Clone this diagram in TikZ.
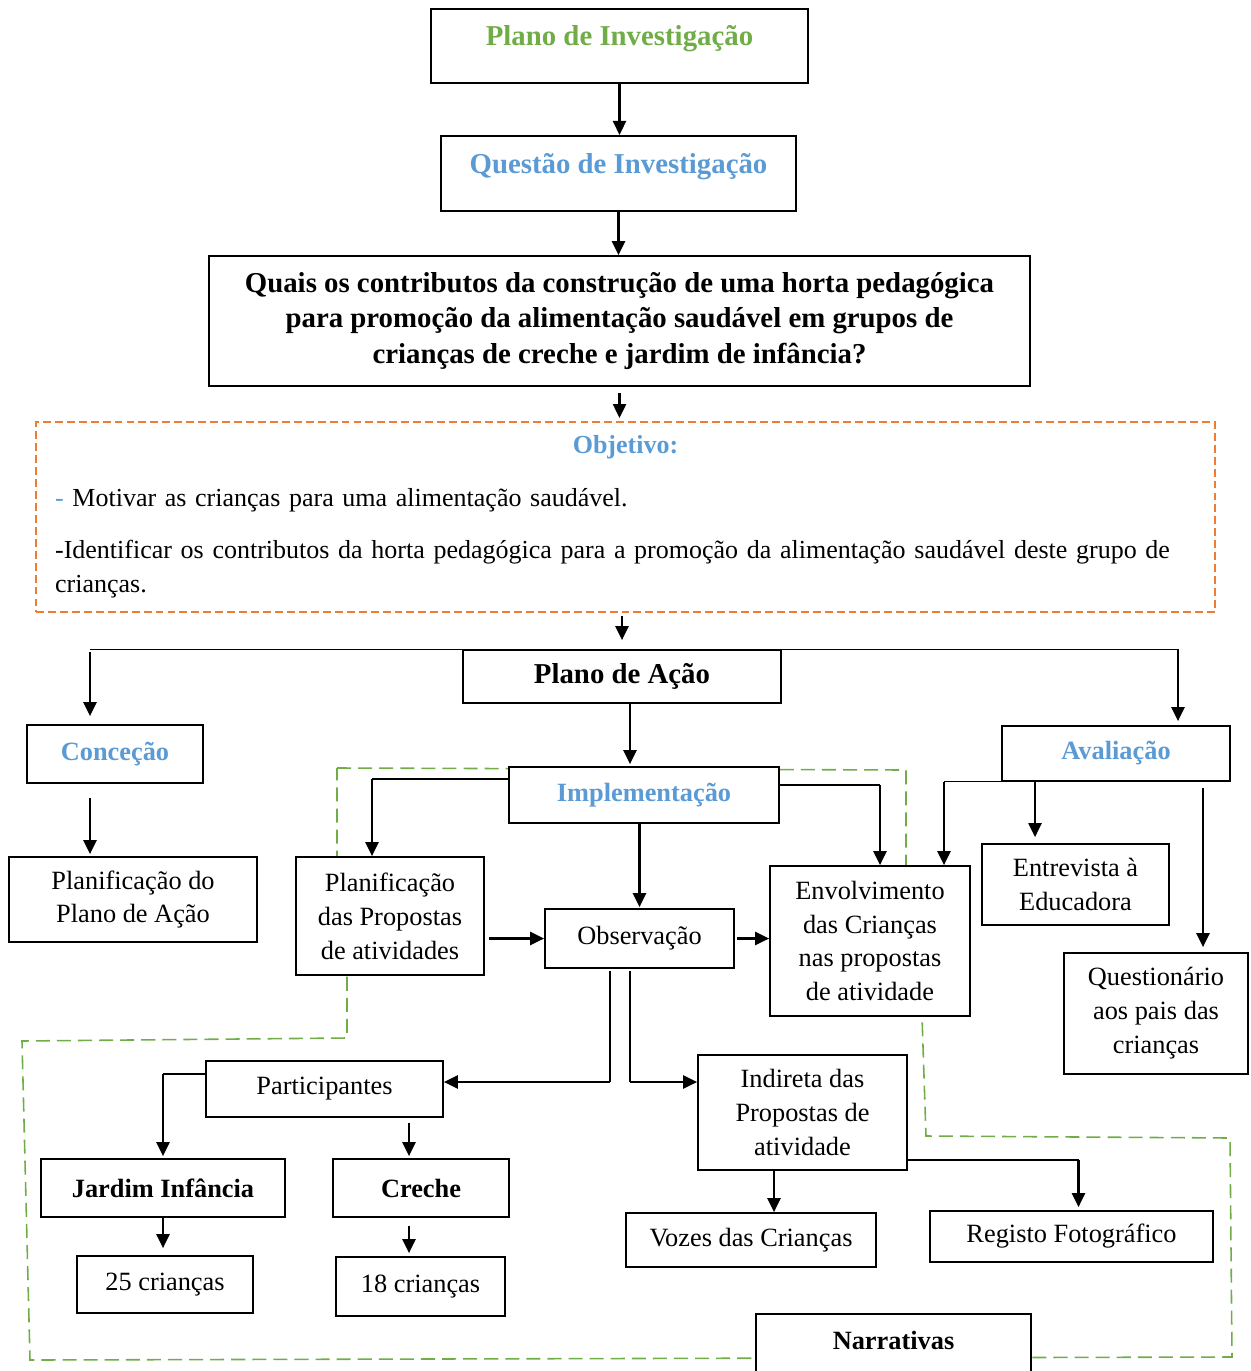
\documentclass[tikz,border=0pt]{standalone}
\usepackage{fontspec}
\setmainfont{Liberation Serif}
\usetikzlibrary{arrows.meta,positioning}
\definecolor{titlegreen}{HTML}{70AD47}
\definecolor{titleblue}{HTML}{5B9BD5}
\definecolor{goalorange}{HTML}{ED7D31}
\newcommand{\txtsz}{\fontsize{15}{19.3}\selectfont}
\newcommand{\goalsz}{\fontsize{14.8}{19.3}\selectfont}
\newcommand{\headsz}{\fontsize{16.4}{20.4}\selectfont}

\begin{document}
\begin{tikzpicture}[x=0.02cm,y=-0.02cm,
  box/.style={draw,line width=1pt,fill=white,align=center,inner sep=2pt,font=\txtsz},
  head/.style={box,font=\headsz\bfseries},
  bold/.style={box,font=\txtsz\bfseries},
  sub/.style={bold,text=titleblue},
  arr/.style={line width=1.3pt,-{Triangle[length=0.28cm,width=0.26cm]}},
  link/.style={line width=0.6pt}]
\useasboundingbox (0,0) rectangle (1250,1371);
% green zone round the implementation
\draw[titlegreen,line width=0.9pt,dash pattern=on 8pt off 4pt]
  (337,768) -- (906,770) -- (906,866) -- (922,1017) -- (926,1136) -- (1230,1138)
  -- (1232,1357) -- (30,1360) -- (22,1041) -- (347,1038) -- (347,975) -- (337,857) -- cycle;

\node[head,text=titlegreen,minimum width=7.54cm,inner ysep=0pt,text height=0.74cm,text depth=0.74cm,anchor=north] (plano) at (619.5,8) {Plano de Investigação};
\node[head,text=titleblue,minimum width=7.1cm,inner ysep=0pt,text height=0.75cm,text depth=0.75cm,anchor=north] (questao) at (618.5,135) {Questão de Investigação};
\node[head,minimum width=16.42cm,minimum height=2.6cm] (quest) at (619.5,321)
  {Quais os contributos da construção de uma horta pedagógica\\para promoção da alimentação saudável em grupos de\\crianças de creche e jardim de infância?};
\node[draw=goalorange,line width=1.1pt,dash pattern=on 4.5pt off 2.3pt,minimum height=3.8cm,
  text width=22.82cm,inner xsep=0.38cm,inner ysep=0pt,align=left,font=\goalsz] (obj) at (625.5,517)
  {{\centering\bfseries\textcolor{titleblue}{Objetivo:}\par}\vspace{10.5pt}\raggedright
   \textcolor{titleblue}{-} Motivar as crianças para uma alimentação saudável.\par\vspace{10.5pt}
   -Identificar os contributos da horta pedagógica para a promoção da alimentação saudável deste grupo de\\crianças.};
\node[head,minimum width=6.36cm,minimum height=1.06cm] (acao) at (622,676.5) {Plano de Ação};
\node[sub,minimum width=3.52cm,minimum height=1.16cm] (concecao) at (115,754) {Conceção};
\node[box,minimum width=4.96cm,minimum height=1.7cm] (planif) at (133,899.5) {Planificação do\\Plano de Ação};
\node[sub,minimum width=5.4cm,minimum height=1.12cm] (impl) at (644,795) {Implementação};
\node[sub,minimum width=4.56cm,minimum height=1.1cm] (aval) at (1116,753.5) {Avaliação};
\node[box,minimum width=3.76cm,minimum height=2.36cm] (planprop) at (390,916) {Planificação\\das Propostas\\de atividades};
\node[box,minimum width=3.78cm,minimum height=1.18cm] (obs) at (639.5,938.5) {Observação};
\node[box,minimum width=4cm,minimum height=3cm] (envolv) at (870,941) {Envolvimento\\das Crianças\\nas propostas\\de atividade};
\node[box,minimum width=3.74cm,minimum height=1.62cm] (entrev) at (1075.5,884.5) {Entrevista à\\Educadora};
\node[box,minimum width=3.68cm,minimum height=2.42cm] (questpais) at (1156,1013.5) {Questionário\\aos pais das\\crianças};
\node[box,minimum width=4.74cm,minimum height=1.12cm] (partic) at (324.5,1089) {Participantes};
\node[box,minimum width=4.18cm,minimum height=2.3cm] (indireta) at (802.5,1112.5) {Indireta das\\Propostas de\\atividade};
\node[bold,minimum width=4.88cm,minimum height=1.16cm] (jardim) at (163,1188) {Jardim Infância};
\node[bold,minimum width=3.52cm,minimum height=1.16cm] (creche) at (421,1188) {Creche};
\node[box,minimum width=3.52cm,minimum height=1.14cm] (c25) at (165,1284.5) {25 crianças};
\node[box,minimum width=3.38cm,minimum height=1.18cm] (c18) at (420.5,1286.5) {18 crianças};
\node[box,minimum width=5cm,minimum height=1.08cm] (vozes) at (751,1240) {Vozes das Crianças};
\node[box,minimum width=5.66cm,minimum height=1.02cm] (registo) at (1071.5,1236.5) {Registo Fotográfico};
\node[bold,minimum width=5.5cm,inner ysep=0pt,text height=0.72cm,text depth=0.9cm,anchor=north] (narr) at (893.5,1313) {Narrativas};

% top chain
\draw[arr] (plano.south) -- (plano.south |- questao.north);
\draw[arr] (questao.south) -- (questao.south |- quest.north);
\draw[arr,shorten <=0.12cm,shorten >=0.06cm] (quest.south) -- (quest.south |- obj.north);
\draw[arr,shorten <=0.06cm,shorten >=0.18cm] (acao.north |- obj.south) -- (acao.north);

% plano de acao branches
\coordinate (kcon) at ([xshift=-0.5cm]concecao.north);
\draw[link] (acao.north west) -- (acao.north west -| kcon);
\draw[arr,shorten <=0.06cm,shorten >=0.16cm] (acao.north west -| kcon) -- (kcon);
\draw[arr,shorten <=0.28cm,shorten >=0.04cm] (kcon |- concecao.south) -- (kcon |- planif.north);
\coordinate (kava) at ([xshift=1.24cm]aval.north);
\draw[link] (acao.north east) -- (acao.north east -| kava);
\draw[arr,shorten >=0.08cm] (acao.north east -| kava) -- (kava);
\coordinate (kimp) at ([xshift=0.16cm]acao.south);
\draw[arr,shorten >=0.04cm] (kimp) -- (kimp |- impl.north);

% implementacao
\draw[arr,shorten >=0.02cm] (obs.north |- impl.south) -- (obs.north);
\coordinate (kimpw) at ([yshift=0.32cm]impl.west);
\coordinate (kprop) at ([xshift=-0.36cm]planprop.north);
\draw[link] (kimpw) -- (kimpw -| kprop);
\draw[arr] (kimpw -| kprop) -- (kprop);
\coordinate (kimpe) at ([yshift=0.2cm]impl.east);
\coordinate (kenv) at ([xshift=0.2cm]envolv.north);
\draw[link] (kimpe) -- (kimpe -| kenv);
\draw[arr] (kimpe -| kenv) -- (kenv);
\draw[arr,shorten <=0.08cm] (planprop.east |- obs.west) -- (obs.west);
\draw[arr,shorten <=0.04cm] (obs.east) -- (obs.east -| envolv.west);

% avaliacao
\coordinate (kenvb) at ([xshift=1.48cm]envolv.north);
\draw[link] (aval.south west) -- (aval.south west -| kenvb);
\draw[arr] (aval.south west -| kenvb) -- (kenvb);
\coordinate (kent) at ([xshift=-0.81cm]entrev.north);
\draw[arr,shorten >=0.12cm] (kent |- aval.south) -- (kent);
\coordinate (kque) at ([xshift=0.94cm]questpais.north);
\draw[arr,shorten <=0.12cm,shorten >=0.1cm] (kque |- aval.south) -- (kque);

% observacao
\coordinate (kpar) at ([yshift=0.14cm]partic.east);
\coordinate (kobsa) at ([xshift=-0.59cm]obs.south);
\coordinate (kobsb) at ([xshift=-0.19cm]obs.south);
\draw[link,shorten <=0.04cm] (kobsa) -- (kobsa |- kpar);
\draw[arr] (kobsa |- kpar) -- (kpar);
\draw[link,shorten <=0.04cm] (kobsb) -- (kobsb |- kpar);
\draw[arr] (kobsb |- kpar) -- (indireta.west |- kpar);

% participantes
\coordinate (kparw) at ([yshift=0.3cm]partic.west);
\draw[link] (kparw) -- (kparw -| jardim.north);
\draw[arr,shorten >=0.04cm] (kparw -| jardim.north) -- (jardim.north);
\coordinate (kcre) at ([xshift=-0.24cm]creche.north);
\draw[arr,shorten <=0.1cm,shorten >=0.04cm] (kcre |- partic.south) -- (kcre);
\draw[arr,shorten >=0.14cm] (jardim.south) -- (jardim.south |- c25.north);
\draw[arr,shorten <=0.16cm,shorten >=0.06cm] (kcre |- creche.south) -- (kcre |- c18.north);

% indireta
\coordinate (kvoz) at ([xshift=-0.57cm]indireta.south);
\draw[arr] (kvoz) -- (kvoz |- vozes.north);
\coordinate (kind) at ([yshift=-0.95cm]indireta.east);
\coordinate (kreg) at ([xshift=0.14cm]registo.north);
\draw[link] (kind) -- (kind -| kreg);
\draw[arr,shorten >=0.06cm] (kind -| kreg) -- (kreg);
\end{tikzpicture}
\end{document}
